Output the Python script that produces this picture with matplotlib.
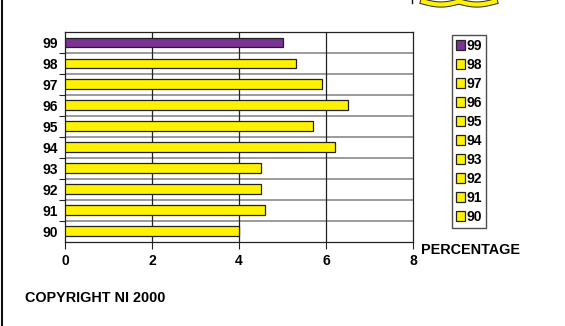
import matplotlib.pyplot as plt
import matplotlib.patheffects as pe
from matplotlib.patches import Patch
from matplotlib.lines import Line2D
import numpy as np

plt.rcParams['font.family'] = ['Liberation Sans', 'DejaVu Sans']
plt.rcParams['font.weight'] = 'bold'

# yearly percentages, oldest first
years = ["90", "91", "92", "93", "94", "95", "96", "97", "98", "99"]
values = [4.0, 4.6, 4.5, 4.5, 6.2, 5.7, 6.5, 5.9, 5.3, 5.0]
colors = ["#fff200"] * 9 + ["#7b3294"]
x_ticks = [0, 2, 4, 6, 8]

fig = plt.figure(figsize=(5.65, 3.26), dpi=100)
ax = fig.add_axes([0.1150, 0.2592, 0.6160, 0.6426])

pos = np.arange(len(years))
ax.barh(pos, values, height=0.47, color=colors, edgecolor="#222222",
        linewidth=0.9, zorder=3)

ax.set_xlim(0, 8)
ax.set_ylim(-0.5, len(years) - 0.5)
ax.set_xticks(x_ticks)
ax.set_xticklabels([str(t) for t in x_ticks], fontsize=10, fontweight="bold")
ax.set_yticks(pos)
ax.set_yticklabels(years, fontsize=10, fontweight="bold")
ax.tick_params(axis="y", length=0, pad=5)
ax.tick_params(axis="x", length=5, width=0.8, pad=4, color="#222222")

# row separators (grey) and minor ticks on the left
ax.set_yticks(pos[:-1] + 0.5, minor=True)
ax.tick_params(axis="y", which="minor", length=4, width=0.8, color="#222222")
for b in pos[:-1] + 0.5:
    ax.axhline(b, color="#8a8a8a", linewidth=1.2, zorder=1)
for t in x_ticks[1:-1]:
    ax.axvline(t, color="#222222", linewidth=0.9, zorder=1)
for s in ax.spines.values():
    s.set_color("#222222")
    s.set_linewidth(0.9)

ax.text(8.18, -0.55, "PERCENTAGE", fontsize=10.4, fontweight="bold",
        ha="left", va="top", transform=ax.transData)

handles = [Patch(facecolor=c, edgecolor="#222222", linewidth=0.9)
           for c in colors[::-1]]
leg = fig.legend(handles, years[::-1], loc="upper left",
                 bbox_to_anchor=(452 / 565, 1 - 35 / 326),
                 prop={"size": 10, "weight": "bold"},
                 handlelength=0.6, handleheight=0.7, handletextpad=0.15,
                 labelspacing=0.36, borderpad=0.3, borderaxespad=0,
                 fancybox=False, frameon=True)
leg.get_frame().set_edgecolor("#222222")
leg.get_frame().set_linewidth(1.0)

fig.text(25 / 565, 1 - 298 / 326, "COPYRIGHT NI 2000", fontsize=10.4,
         fontweight="bold", ha="left", va="center")

# page border on the left and the clipped banner at the top right
fig.add_artist(Line2D([2 / 565, 2 / 565], [0, 1], color="#111111",
                      linewidth=1.5, transform=fig.transFigure))
fig.add_artist(Line2D([412 / 565, 412 / 565], [1, 1 - 3 / 326],
                      color="#111111", linewidth=1.0, transform=fig.transFigure))
wx = np.linspace(423, 495, 80)
wy = 1.5 + 3 * np.abs(np.sin((wx - 423) / 72 * 2 * np.pi))
fig.add_artist(Line2D(wx / 565, 1 - wy / 326, color="#fff200", linewidth=3,
                      transform=fig.transFigure,
                      path_effects=[pe.Stroke(linewidth=4.5, foreground="#333333"),
                                    pe.Normal()]))

fig.savefig("out.png", dpi=100)
